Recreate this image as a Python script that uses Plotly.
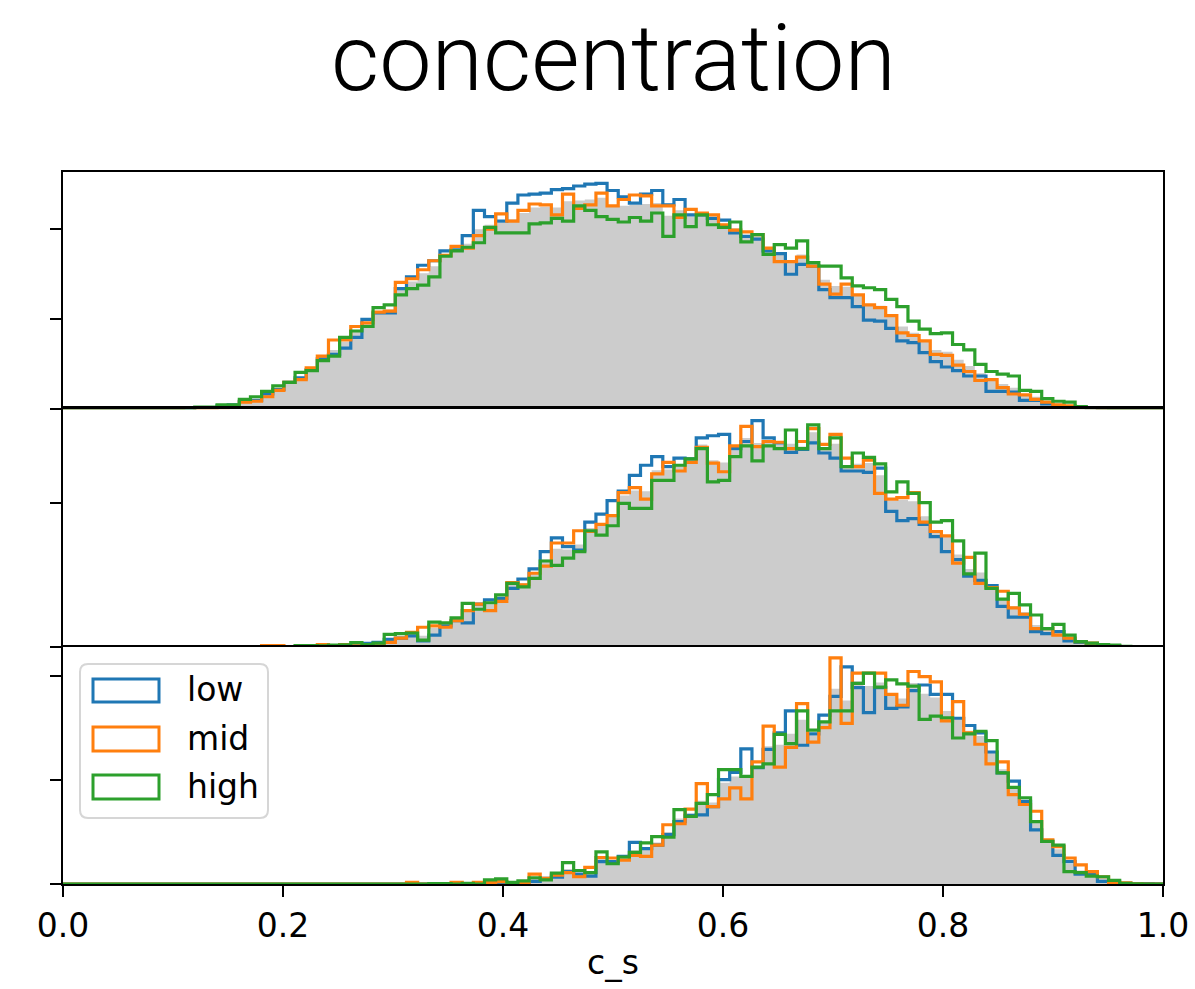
import numpy as np
import plotly.graph_objects as go
from plotly.subplots import make_subplots

# Histogram bins shared by all three panels (density histograms, 100 bins)
bin_lo, bin_hi, n_bins = -0.0018, 1.0113, 100

# ---- panel 1 : densities from bin index 10 onward ----
first_1 = 10
low_1 = [0.00, 0.01, 0.02, 0.02, 0.04, 0.05, 0.09, 0.10, 0.17, 0.22,
         0.30, 0.35, 0.44, 0.56, 0.61, 0.68, 0.80, 1.00, 1.07, 1.07,
         1.34, 1.47, 1.60, 1.65, 1.76, 1.77, 1.93, 2.21, 2.14, 2.09,
         2.29, 2.38, 2.39, 2.40, 2.44, 2.45, 2.48, 2.50, 2.51, 2.43,
         2.36, 2.29, 2.39, 2.43, 2.27, 2.33, 2.16, 2.16, 2.12, 2.10,
         1.96, 1.92, 1.89, 1.76, 1.73, 1.50, 1.61, 1.59, 1.33, 1.24,
         1.24, 1.14, 0.99, 0.98, 0.90, 0.76, 0.74, 0.63, 0.53, 0.47,
         0.43, 0.37, 0.37, 0.20, 0.20, 0.19, 0.10, 0.10, 0.06, 0.045,
         0.02, 0.02, 0.015, 0.01, 0.005, 0.0]
mid_1 = [0.005, 0.02, 0.01, 0.01, 0.015, 0.04, 0.08, 0.09, 0.14, 0.21,
         0.30, 0.33, 0.46, 0.59, 0.77, 0.77, 0.92, 0.96, 1.08, 1.09,
         1.41, 1.45, 1.55, 1.65, 1.71, 1.81, 1.79, 1.93, 2.00, 2.17,
         2.09, 2.21, 2.28, 2.27, 2.16, 2.39, 2.23, 2.27, 2.40, 2.26,
         2.33, 2.38, 2.37, 2.26, 2.26, 2.13, 2.22, 2.18, 2.16, 2.05,
         1.99, 1.97, 1.94, 1.79, 1.64, 1.64, 1.69, 1.59, 1.39, 1.28,
         1.39, 1.27, 1.16, 1.13, 1.04, 0.85, 0.82, 0.76, 0.61, 0.60,
         0.49, 0.42, 0.32, 0.33, 0.24, 0.17, 0.16, 0.11, 0.08, 0.05,
         0.04, 0.02, 0.015, 0.01, 0.005, 0.0]
high_1 = [0.005, 0.01, 0.025, 0.025, 0.05, 0.05, 0.11, 0.14, 0.20, 0.26,
          0.30, 0.41, 0.43, 0.54, 0.59, 0.80, 0.87, 0.92, 1.13, 1.16,
          1.27, 1.34, 1.38, 1.47, 1.70, 1.76, 1.80, 1.85, 2.02, 1.96,
          1.96, 1.96, 2.06, 2.07, 2.12, 2.09, 2.26, 2.21, 2.14, 2.11,
          2.08, 2.13, 2.09, 2.18, 1.92, 2.16, 2.03, 2.16, 2.05, 2.02,
          2.08, 1.86, 1.94, 1.72, 1.83, 1.79, 1.87, 1.63, 1.59, 1.59,
          1.46, 1.37, 1.35, 1.33, 1.22, 1.14, 0.98, 0.89, 0.84, 0.85,
          0.72, 0.66, 0.50, 0.42, 0.39, 0.37, 0.21, 0.20, 0.12, 0.09,
          0.08, 0.03, 0.02, 0.015, 0.005, 0.005]
all_1 = [0.003, 0.013, 0.018, 0.018, 0.035, 0.047, 0.093, 0.11, 0.17, 0.23,
         0.30, 0.36, 0.44, 0.56, 0.66, 0.75, 0.86, 0.96, 1.09, 1.11,
         1.34, 1.42, 1.51, 1.59, 1.72, 1.78, 1.84, 2.00, 2.05, 2.07,
         2.11, 2.18, 2.24, 2.25, 2.24, 2.31, 2.32, 2.33, 2.35, 2.27,
         2.26, 2.27, 2.28, 2.29, 2.15, 2.21, 2.14, 2.17, 2.11, 2.06,
         2.01, 1.92, 1.92, 1.76, 1.73, 1.64, 1.72, 1.60, 1.44, 1.37,
         1.36, 1.26, 1.17, 1.15, 1.05, 0.92, 0.85, 0.76, 0.66, 0.64,
         0.55, 0.48, 0.40, 0.32, 0.28, 0.24, 0.16, 0.14, 0.09, 0.06,
         0.047, 0.023, 0.017, 0.012, 0.005, 0.002]

# ---- panel 2 : densities from bin index 18 onward ----
first_2 = 18
low_2 = [0.0, 0.0,
         0.0, 0.0, 0.0, 0.0, 0.005, 0.005, 0.01, 0.045, 0.06, 0.10,
         0.12, 0.15, 0.08, 0.16, 0.29, 0.36, 0.33, 0.59, 0.65, 0.67,
         0.81, 0.94, 1.08, 1.32, 1.51, 1.39, 1.34, 1.73, 1.84, 2.03,
         2.16, 2.38, 2.52, 2.64, 2.50, 2.62, 2.61, 2.90, 2.93, 2.95,
         2.75, 2.85, 3.14, 2.90, 2.83, 2.70, 2.74, 2.83, 2.69, 2.62,
         2.44, 2.44, 2.42, 2.48, 1.88, 1.75, 1.78, 1.70, 1.53, 1.32,
         1.21, 0.98, 0.92, 0.85, 0.56, 0.41, 0.41, 0.21, 0.18, 0.21,
         0.08, 0.06, 0.02, 0.01, 0.01, 0.0]
mid_2 = [0.015, 0.015,
         0.0, 0.0, 0.005, 0.03, 0.01, 0.03, 0.01, 0.02, 0.01, 0.06,
         0.12, 0.20, 0.27, 0.29, 0.27, 0.36, 0.50, 0.59, 0.50, 0.63,
         0.89, 0.86, 1.02, 1.12, 1.44, 1.44, 1.61, 1.60, 1.70, 1.82,
         2.14, 2.21, 2.05, 2.40, 2.56, 2.44, 2.56, 2.77, 2.55, 2.43,
         2.79, 3.06, 2.78, 2.85, 2.84, 2.75, 2.85, 3.03, 2.81, 2.95,
         2.62, 2.50, 2.59, 2.13, 2.05, 2.07, 2.14, 1.73, 1.60, 1.54,
         1.16, 1.24, 0.88, 0.82, 0.77, 0.54, 0.45, 0.25, 0.25, 0.16,
         0.12, 0.07, 0.05, 0.02, 0.01, 0.0]
high_2 = [0.0, 0.0,
          0.0, 0.015, 0.015, 0.01, 0.02, 0.025, 0.055, 0.03, 0.05, 0.17,
          0.18, 0.19, 0.09, 0.34, 0.33, 0.40, 0.60, 0.52, 0.61, 0.72,
          0.88, 0.83, 0.95, 1.19, 1.13, 1.23, 1.32, 1.61, 1.55, 1.68,
          1.99, 1.92, 1.92, 2.31, 2.31, 2.52, 2.61, 2.75, 2.29, 2.31,
          2.64, 2.79, 2.58, 2.79, 2.75, 3.01, 2.75, 3.08, 2.75, 2.90,
          2.50, 2.69, 2.63, 2.54, 2.15, 2.29, 2.13, 2.00, 1.73, 1.75,
          1.47, 1.01, 1.30, 0.81, 0.66, 0.74, 0.58, 0.44, 0.25, 0.31,
          0.16, 0.07, 0.05, 0.03, 0.02, 0.005]
all_2 = [0.005, 0.005,
         0.0, 0.005, 0.007, 0.013, 0.012, 0.02, 0.025, 0.032, 0.04, 0.11,
         0.14, 0.18, 0.15, 0.26, 0.30, 0.37, 0.48, 0.57, 0.59, 0.67,
         0.86, 0.88, 1.02, 1.21, 1.36, 1.35, 1.42, 1.65, 1.70, 1.84,
         2.10, 2.17, 2.16, 2.45, 2.46, 2.53, 2.59, 2.81, 2.59, 2.56,
         2.73, 2.90, 2.83, 2.85, 2.81, 2.82, 2.78, 2.98, 2.75, 2.82,
         2.52, 2.54, 2.55, 2.38, 2.03, 2.04, 2.02, 1.81, 1.62, 1.54,
         1.28, 1.08, 1.03, 0.83, 0.66, 0.56, 0.48, 0.30, 0.23, 0.23,
         0.12, 0.067, 0.04, 0.02, 0.013, 0.002]

# ---- panel 3 : densities from bin index 30 onward ----
first_3 = 30
low_3 = [0.0, 0.0, 0.0, 0.0, 0.0, 0.0, 0.0, 0.0, 0.0, 0.0,
         0.013, 0.0, 0.05, 0.11, 0.13, 0.24, 0.19, 0.15, 0.43, 0.43,
         0.53, 0.80, 0.68, 0.75, 0.95, 1.20, 1.32, 1.33, 1.49, 2.01,
         2.15, 2.60, 2.24, 2.59, 2.91, 3.33, 2.67, 2.89, 3.25, 3.61,
         4.18, 3.78, 3.30, 3.78, 3.38, 3.41, 3.72, 3.83, 3.65, 3.65,
         3.19, 3.05, 2.91, 2.54, 2.14, 1.98, 1.59, 1.04, 0.82, 0.55,
         0.43, 0.19, 0.19, 0.05, 0.03, 0.013, 0.005, 0.007, 0.003]
mid_3 = [0.0, 0.03, 0.0, 0.0, 0.0, 0.03, 0.0, 0.03, 0.03, 0.045,
         0.0, 0.013, 0.19, 0.11, 0.17, 0.22, 0.14, 0.32, 0.51, 0.50,
         0.46, 0.55, 0.53, 0.75, 1.14, 1.16, 1.44, 1.93, 1.49, 1.64,
         1.85, 1.64, 2.35, 3.04, 2.25, 2.63, 3.47, 2.73, 3.01, 4.35,
         3.09, 4.06, 4.06, 4.06, 3.65, 3.44, 4.09, 3.99, 3.89, 3.14,
         3.51, 2.91, 2.69, 2.31, 2.35, 1.72, 1.53, 1.40, 0.85, 0.72,
         0.50, 0.37, 0.24, 0.14, 0.03, 0.02, 0.005, 0.0, 0.0]
high_3 = [0.0, 0.0, 0.0, 0.01, 0.01, 0.0, 0.013, 0.0, 0.08, 0.10,
          0.03, 0.06, 0.12, 0.08, 0.21, 0.41, 0.26, 0.22, 0.62, 0.39,
          0.52, 0.61, 0.79, 0.91, 0.90, 1.43, 1.30, 1.55, 1.72, 2.20,
          2.20, 2.07, 2.25, 2.31, 2.88, 2.70, 3.33, 2.96, 3.12, 3.33,
          3.33, 3.86, 4.06, 3.79, 3.93, 3.85, 3.81, 3.17, 3.23, 3.20,
          2.81, 2.89, 2.94, 2.76, 2.14, 1.86, 1.66, 1.20, 0.82, 0.75,
          0.24, 0.22, 0.15, 0.14, 0.07, 0.013, 0.005, 0.0, 0.0]
all_3 = [0.0, 0.01, 0.0, 0.003, 0.003, 0.01, 0.004, 0.01, 0.037, 0.048,
         0.014, 0.024, 0.12, 0.10, 0.17, 0.29, 0.20, 0.23, 0.52, 0.44,
         0.50, 0.65, 0.67, 0.80, 1.00, 1.26, 1.35, 1.60, 1.57, 1.95,
         2.07, 2.10, 2.28, 2.65, 2.68, 2.89, 3.16, 2.86, 3.13, 3.76,
         3.53, 3.90, 3.81, 3.88, 3.65, 3.57, 3.87, 3.66, 3.59, 3.33,
         3.17, 2.95, 2.85, 2.54, 2.21, 1.85, 1.59, 1.21, 0.83, 0.67,
         0.39, 0.26, 0.19, 0.11, 0.043, 0.015, 0.005, 0.002, 0.0]

series_names = ["low", "mid", "high"]
series_colors = ["#1f77b4", "#ff7f0e", "#2ca02c"]
x_ticks = [0.0, 0.2, 0.4, 0.6, 0.8, 1.0]
x_tick_text = ["0.0", "0.2", "0.4", "0.6", "0.8", "1.0"]
y_ticks = [[0, 1, 2], [0, 2], [0, 2, 4]]

panels = [
    (first_1, all_1, [low_1, mid_1, high_1]),
    (first_2, all_2, [low_2, mid_2, high_2]),
    (first_3, all_3, [low_3, mid_3, high_3]),
]

edges = np.linspace(bin_lo, bin_hi, n_bins + 1)


def full(vals, first):
    out = np.zeros(n_bins)
    out[first:first + len(vals)] = vals
    return out


def step_xy(vals):
    # outline of a step histogram: rise at the first edge, fall at the last
    x = np.concatenate([[edges[0]], edges[:-1], [edges[-1]]])
    y = np.concatenate([[0.0], vals, [0.0]])
    return x, y


fig = make_subplots(rows=3, cols=1, shared_xaxes=True, vertical_spacing=0)

ymax = []
for r, (first, total, groups) in enumerate(panels, start=1):
    tot = full(total, first)
    x, y = step_xy(tot)
    fig.add_trace(go.Scatter(x=x, y=y, mode="lines", line_shape="hv",
                             line=dict(width=0, color="#cccccc"),
                             fill="tozeroy", fillcolor="#cccccc",
                             hoverinfo="skip", showlegend=False),
                  row=r, col=1)
    top = 0.0
    for name, color, vals in zip(series_names, series_colors, groups):
        v = full(vals, first)
        top = max(top, v.max())
        x, y = step_xy(v)
        fig.add_trace(go.Scatter(x=x, y=y, mode="lines", line_shape="hv",
                                 line=dict(width=3.2, color=color),
                                 name=name, showlegend=False),
                      row=r, col=1)
    ymax.append(top * 1.05)

SPINE = 2.2
for r in range(1, 4):
    fig.update_yaxes(range=[0, ymax[r - 1]], tickvals=y_ticks[r - 1],
                     ticks="outside", ticklen=11, tickwidth=SPINE,
                     tickcolor="black", showticklabels=False,
                     showline=True, linecolor="black", linewidth=SPINE,
                     mirror=True, showgrid=False, zeroline=False,
                     automargin=False, row=r, col=1)
    if r < 3:
        # upper panels: draw only the top frame edge; the edge below
        # comes from the next panel, so shared borders stay single
        fig.update_xaxes(range=[0, 1], side="top", ticks="",
                         showticklabels=False, showline=True,
                         linecolor="black",
                         linewidth=SPINE if r == 1 else SPINE + 0.4,
                         mirror=False, showgrid=False, zeroline=False,
                         automargin=False, row=r, col=1)
    else:
        fig.update_xaxes(range=[0, 1], tickvals=x_ticks,
                         ticktext=x_tick_text, ticks="outside", ticklen=11,
                         tickwidth=SPINE, tickcolor="black",
                         showticklabels=True,
                         tickfont=dict(family="DejaVu Sans", size=33,
                                       color="black"),
                         showline=True, linecolor="black", linewidth=SPINE,
                         mirror=True, showgrid=False, zeroline=False,
                         automargin=False, row=r, col=1)

W, H = 1195, 989
L, R, T, B = 63, 32, 172, 105
pw, ph = W - L - R, H - T - B


def px(xp):
    return (xp - L) / pw


def py(yp):
    return (H - B - yp) / ph


# legend frame (rounded) and entries drawn in paper coordinates
bx0, bx1, by0, by1, rad = 80, 268, 664, 818, 8
rx, ry = rad / pw, rad / ph
X0, X1, Y0, Y1 = px(bx0), px(bx1), py(by1), py(by0)
frame = (f"M {X0+rx},{Y0} L {X1-rx},{Y0} Q {X1},{Y0} {X1},{Y0+ry} "
         f"L {X1},{Y1-ry} Q {X1},{Y1} {X1-rx},{Y1} L {X0+rx},{Y1} "
         f"Q {X0},{Y1} {X0},{Y1-ry} L {X0},{Y0+ry} Q {X0},{Y0} {X0+rx},{Y0} Z")
shapes = [dict(type="path", xref="paper", yref="paper", path=frame,
               line=dict(color="#d6d6d6", width=2),
               fillcolor="rgba(255,255,255,0.8)", layer="above")]
annotations = []
entry_rows = [(679, 702), (727, 751), (775, 799)]
for (t0, t1), name, color in zip(entry_rows, series_names, series_colors):
    shapes.append(dict(type="rect", xref="paper", yref="paper",
                       x0=px(93), x1=px(159), y0=py(t1), y1=py(t0),
                       line=dict(color=color, width=3),
                       fillcolor="rgba(0,0,0,0)", layer="above"))
    annotations.append(dict(x=px(185), y=py((t0 + t1) / 2 - 1), xref="paper",
                            yref="paper", text=name, showarrow=False,
                            xanchor="left", yanchor="middle",
                            font=dict(family="DejaVu Sans", size=33,
                                      color="black")))

annotations.append(dict(x=px(613), y=py(58), xref="paper", yref="paper",
                        text="concentration", showarrow=False,
                        xanchor="center", yanchor="middle",
                        font=dict(family="Roboto", size=93.5, weight=300,
                                  color="black")))
annotations.append(dict(x=px(613), y=py(963), xref="paper", yref="paper",
                        text="c_s", showarrow=False,
                        xanchor="center", yanchor="middle",
                        font=dict(family="DejaVu Sans", size=33,
                                  color="black")))

fig.update_layout(width=W, height=H,
                  margin=dict(l=L, r=R, t=T, b=B, pad=0, autoexpand=False),
                  paper_bgcolor="white", plot_bgcolor="white",
                  showlegend=False, shapes=shapes, annotations=annotations)

fig.write_html("out.html")
